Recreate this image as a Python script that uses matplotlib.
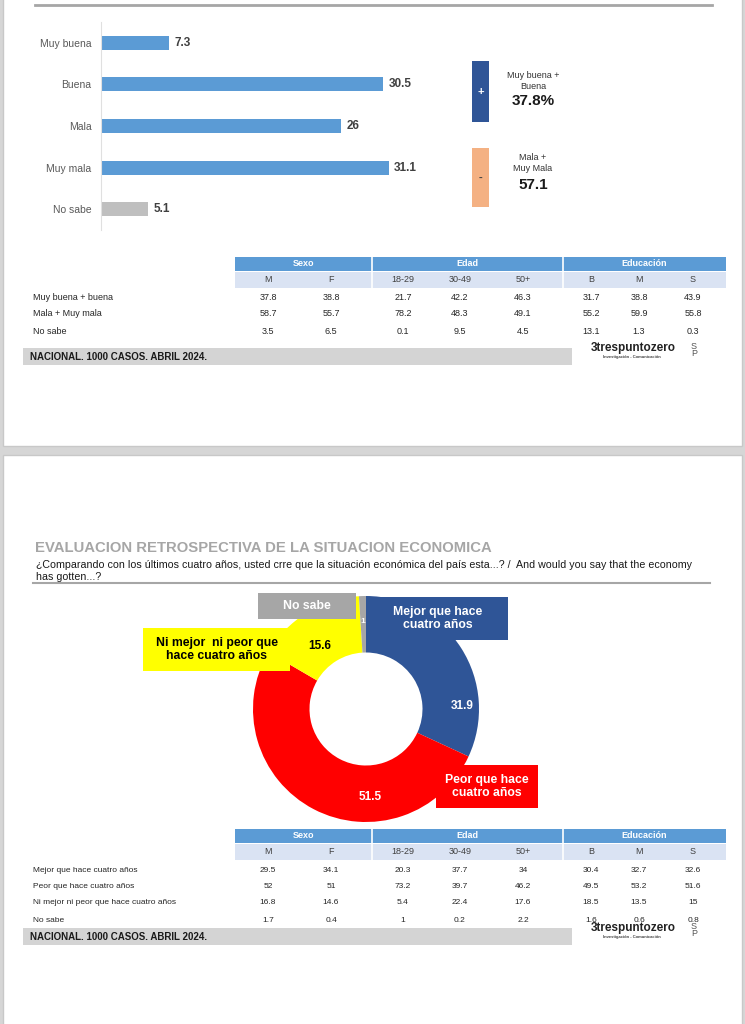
import matplotlib
matplotlib.use("Agg")
import matplotlib.pyplot as plt
from matplotlib.patches import Rectangle, Polygon
import numpy as np

# ---------------- DATA ----------------
bar_categories = ["Muy buena", "Buena", "Mala", "Muy mala", "No sabe"]
bar_values = [7.3, 30.5, 26, 31.1, 5.1]

summary_labels = ["Muy buena +\nBuena", "Mala +\nMuy Mala"]
summary_values = ["37.8%", "57.1"]
summary_signs = ["+", "-"]

group_names = ["Sexo", "Edad", "Educación"]
group_sizes = [2, 3, 3]
sub_columns = ["M", "F", "18-29", "30-49", "50+", "B", "M", "S"]

table1_rows = ["Muy buena + buena", "Mala + Muy mala", "No sabe"]
table1_values = [
    ["37.8", "38.8", "21.7", "42.2", "46.3", "31.7", "38.8", "43.9"],
    ["58.7", "55.7", "78.2", "48.3", "49.1", "55.2", "59.9", "55.8"],
    ["3.5", "6.5", "0.1", "9.5", "4.5", "13.1", "1.3", "0.3"],
]

donut_labels = ["Mejor que hace\ncuatro años", "Peor que hace\ncuatro años",
                "Ni mejor  ni peor que\nhace cuatro años", "No sabe"]
donut_values = [31.9, 51.5, 15.6, 1]
donut_value_text = ["31.9", "51.5", "15.6", "1"]

table2_rows = ["Mejor que hace cuatro años", "Peor que hace cuatro años",
               "Ni mejor ni peor que hace cuatro años", "No sabe"]
table2_values = [
    ["29.5", "34.1", "20.3", "37.7", "34", "30.4", "32.7", "32.6"],
    ["52", "51", "73.2", "39.7", "46.2", "49.5", "53.2", "51.6"],
    ["16.8", "14.6", "5.4", "22.4", "17.6", "18.5", "13.5", "15"],
    ["1.7", "0.4", "1", "0.2", "2.2", "1.6", "0.6", "0.8"],
]

title2 = "EVALUACION RETROSPECTIVA DE LA SITUACION ECONOMICA"
question2 = ["¿Comparando con los últimos cuatro años, usted crre que la situación económica del país esta...? /  And would you say that the economy",
             "has gotten...?"]
footer_text = "NACIONAL. 1000 CASOS. ABRIL 2024."

# ---------------- STYLE ----------------
W, H = 745, 1024
SANS = ["Liberation Sans", "DejaVu Sans"]
NARROW = ["Liberation Sans Narrow", "Liberation Sans", "DejaVu Sans"]
plt.rcParams['font.family'] = SANS

BAR_BLUE = "#5b9bd5"
BAR_GREY = "#bfbfbf"
DARK_BLUE = "#2f5597"
PEACH = "#f4b183"
HEAD_BLUE = "#5b9bd5"
SUB_BLUE = "#dae3f3"
FOOT_GREY = "#d4d4d4"
donut_colors = [DARK_BLUE, "#ff0000", "#ffff00", "#a6a6a6"]

fig = plt.figure(figsize=(W / 100, H / 100), dpi=100)


def rect(x, y, w, h):
    return [x / W, 1 - (y + h) / H, w / W, h / H]


# background axes
bg = fig.add_axes([0, 0, 1, 1], zorder=0)
bg.set_xlim(0, W)
bg.set_ylim(H, 0)
bg.axis("off")
bg.add_patch(Rectangle((0, 0), W, H, facecolor="#d6d6d6", edgecolor="none"))
bg.add_patch(Rectangle((3, -5), 739, 451, facecolor="white", edgecolor="#c8c8c8", lw=1))
bg.add_patch(Rectangle((3, 455), 739, 580, facecolor="white", edgecolor="#c8c8c8", lw=1))
bg.plot([35, 712], [5, 5], color="#a6a6a6", lw=2)
bg.plot([33, 710], [583, 583], color="#a6a6a6", lw=1.5)

# ---------------- BAR CHART ----------------
axb = fig.add_axes(rect(101, 22, 370, 208), zorder=1)
axb.patch.set_alpha(0)
ypos = np.arange(len(bar_categories))
colors = [BAR_BLUE] * (len(bar_categories) - 1) + [BAR_GREY]
bars = axb.barh(ypos, bar_values, height=0.34, color=colors)
axb.set_xlim(0, 40)
axb.set_ylim(len(bar_categories) - 0.5, -0.5)
axb.set_yticks(ypos)
axb.set_yticklabels(bar_categories, fontsize=7.5, color="#595959")
axb.tick_params(axis="y", length=0, pad=7)
axb.set_xticks([])
for s in ["top", "right", "bottom"]:
    axb.spines[s].set_visible(False)
axb.spines["left"].set_color("#e0e0e0")
axb.spines["left"].set_linewidth(0.8)
for b, v in zip(bars, bar_values):
    axb.annotate(f"{v:g}", (b.get_width(), b.get_y() + b.get_height() / 2),
                 xytext=(4, 0), textcoords="offset points", va="center", ha="left",
                 fontsize=8.5, fontweight="bold", color="#404040")

# ---------------- DONUT ----------------
axd = fig.add_axes(rect(253, 596, 226, 226), zorder=1)
axd.patch.set_alpha(0)
wedges, _ = axd.pie(donut_values, colors=donut_colors, startangle=90, counterclock=False,
                    radius=1, wedgeprops=dict(width=0.5, edgecolor="none"))
axd.set_xlim(-1, 1)
axd.set_ylim(-1, 1)
axd.set_aspect("equal")
label_pos = [(0.85, 0.03), (0.04, -0.78), (-0.41, 0.56), (-0.03, 0.77)]
label_col = ["white", "white", "black", "white"]
label_size = [8.5, 8.5, 8.5, 6]
for t, p, c, s in zip(donut_value_text, label_pos, label_col, label_size):
    axd.text(p[0], p[1], t, ha="center", va="center", color=c, fontsize=s, fontweight="bold")

# ---------------- FOREGROUND ----------------
fg = fig.add_axes([0, 0, 1, 1], zorder=2)
fg.set_xlim(0, W)
fg.set_ylim(H, 0)
fg.axis("off")

# summary boxes
box_y = [(61, 122), (148, 207)]
box_col = [DARK_BLUE, PEACH]
sign_col = ["white", "#404040"]
txt_y = [(81, 101), (163, 185)]
for (y0, y1), c, sg, sc, lab, val, (ty, vy) in zip(box_y, box_col, summary_signs, sign_col,
                                                  summary_labels, summary_values, txt_y):
    fg.add_patch(Rectangle((472, y0), 17, y1 - y0, facecolor=c, edgecolor="none"))
    fg.text(480.5, (y0 + y1) / 2, sg, ha="center", va="center", color=sc, fontsize=8, fontweight="bold")
    fg.text(533, ty, lab, ha="center", va="center", fontsize=6.5, color="#333333", linespacing=1.2)
    fg.text(533, vy, val, ha="center", va="center", fontsize=11, fontweight="bold", color="#1a1a1a")

# column positions
col_x = [268, 331, 403, 460, 523, 591, 639, 693]
group_bounds = [(235, 372), (372, 563), (563, 726)]


def draw_table(top, row_labels, values, row_y, label_font, label_size, val_size):
    fg.add_patch(Rectangle((235, top), 491, 14, facecolor=HEAD_BLUE, edgecolor="none"))
    fg.add_patch(Rectangle((235, top + 15), 491, 16, facecolor=SUB_BLUE, edgecolor="none"))
    for (x0, x1), g in zip(group_bounds, group_names):
        fg.text((x0 + x1) / 2, top + 7, g, ha="center", va="center", color="white",
                fontsize=6.5, fontweight="bold", family=NARROW)
    for xb in [372, 563]:
        fg.plot([xb, xb], [top, top + 31], color="white", lw=1.2)
    for x, c in zip(col_x, sub_columns):
        fg.text(x, top + 23, c, ha="center", va="center", fontsize=6.5, color="#404040", family=label_font)
    for ry, rl, vals in zip(row_y, row_labels, values):
        fg.text(33, ry, rl, ha="left", va="center", fontsize=label_size, color="#262626", family=label_font)
        for x, v in zip(col_x, vals):
            fg.text(x, ry, v, ha="center", va="center", fontsize=val_size, color="#262626", family=label_font)


def draw_footer(y):
    fg.add_patch(Rectangle((23, y), 549, 17, facecolor=FOOT_GREY, edgecolor="none"))
    fg.text(30, y + 9, footer_text, ha="left", va="center", fontsize=7, fontweight="bold",
            color="#1a1a1a", family=NARROW)
    fg.text(591, y, "3trespuntozero", ha="left", va="center", fontsize=8.5, fontweight="bold",
            color="#222222")
    fg.text(632, y + 9, "Investigación - Comunicación", ha="center", va="center", fontsize=3,
            color="#444444", fontweight="bold")
    fg.text(694, y + 2, "S\nP", ha="center", va="center", fontsize=6.5, color="#555555",
            linespacing=0.8, fontweight="light")


draw_table(257, table1_rows, table1_values, [298, 314, 331], NARROW, 6.5, 6.5)
draw_footer(348)

# second panel text
fg.text(35, 548, title2, ha="left", va="center", fontsize=10.7, fontweight="bold", color="#a6a6a6")
for qy, line in zip([565, 577], question2):
    fg.text(36, qy, line, ha="left", va="center", fontsize=7.65, color="#1a1a1a")

# donut callouts
callouts = [
    (368, 597, 140, 43, donut_colors[0], "white"),
    (436, 765, 102, 43, donut_colors[1], "white"),
    (143, 628, 147, 43, donut_colors[2], "black"),
    (258, 593, 98, 26, donut_colors[3], "white"),
]
for (x, y, w, h, fc, tc), lab in zip(callouts, donut_labels):
    fg.add_patch(Rectangle((x, y), w, h, facecolor=fc, edgecolor="none"))
    fg.text(x + w / 2, y + h / 2, lab, ha="center", va="center", color=tc, fontsize=8.8,
            fontweight="bold", linespacing=1.1)
# pointer of yellow callout
fg.add_patch(Polygon([(289, 628), (300, 628), (296, 645), (289, 645)], closed=True,
                     facecolor=donut_colors[2], edgecolor="none"))

draw_table(829, table2_rows, table2_values, [870, 886, 903, 920], NARROW, 6, 6)
draw_footer(928)

fig.savefig("out.png", dpi=100)
